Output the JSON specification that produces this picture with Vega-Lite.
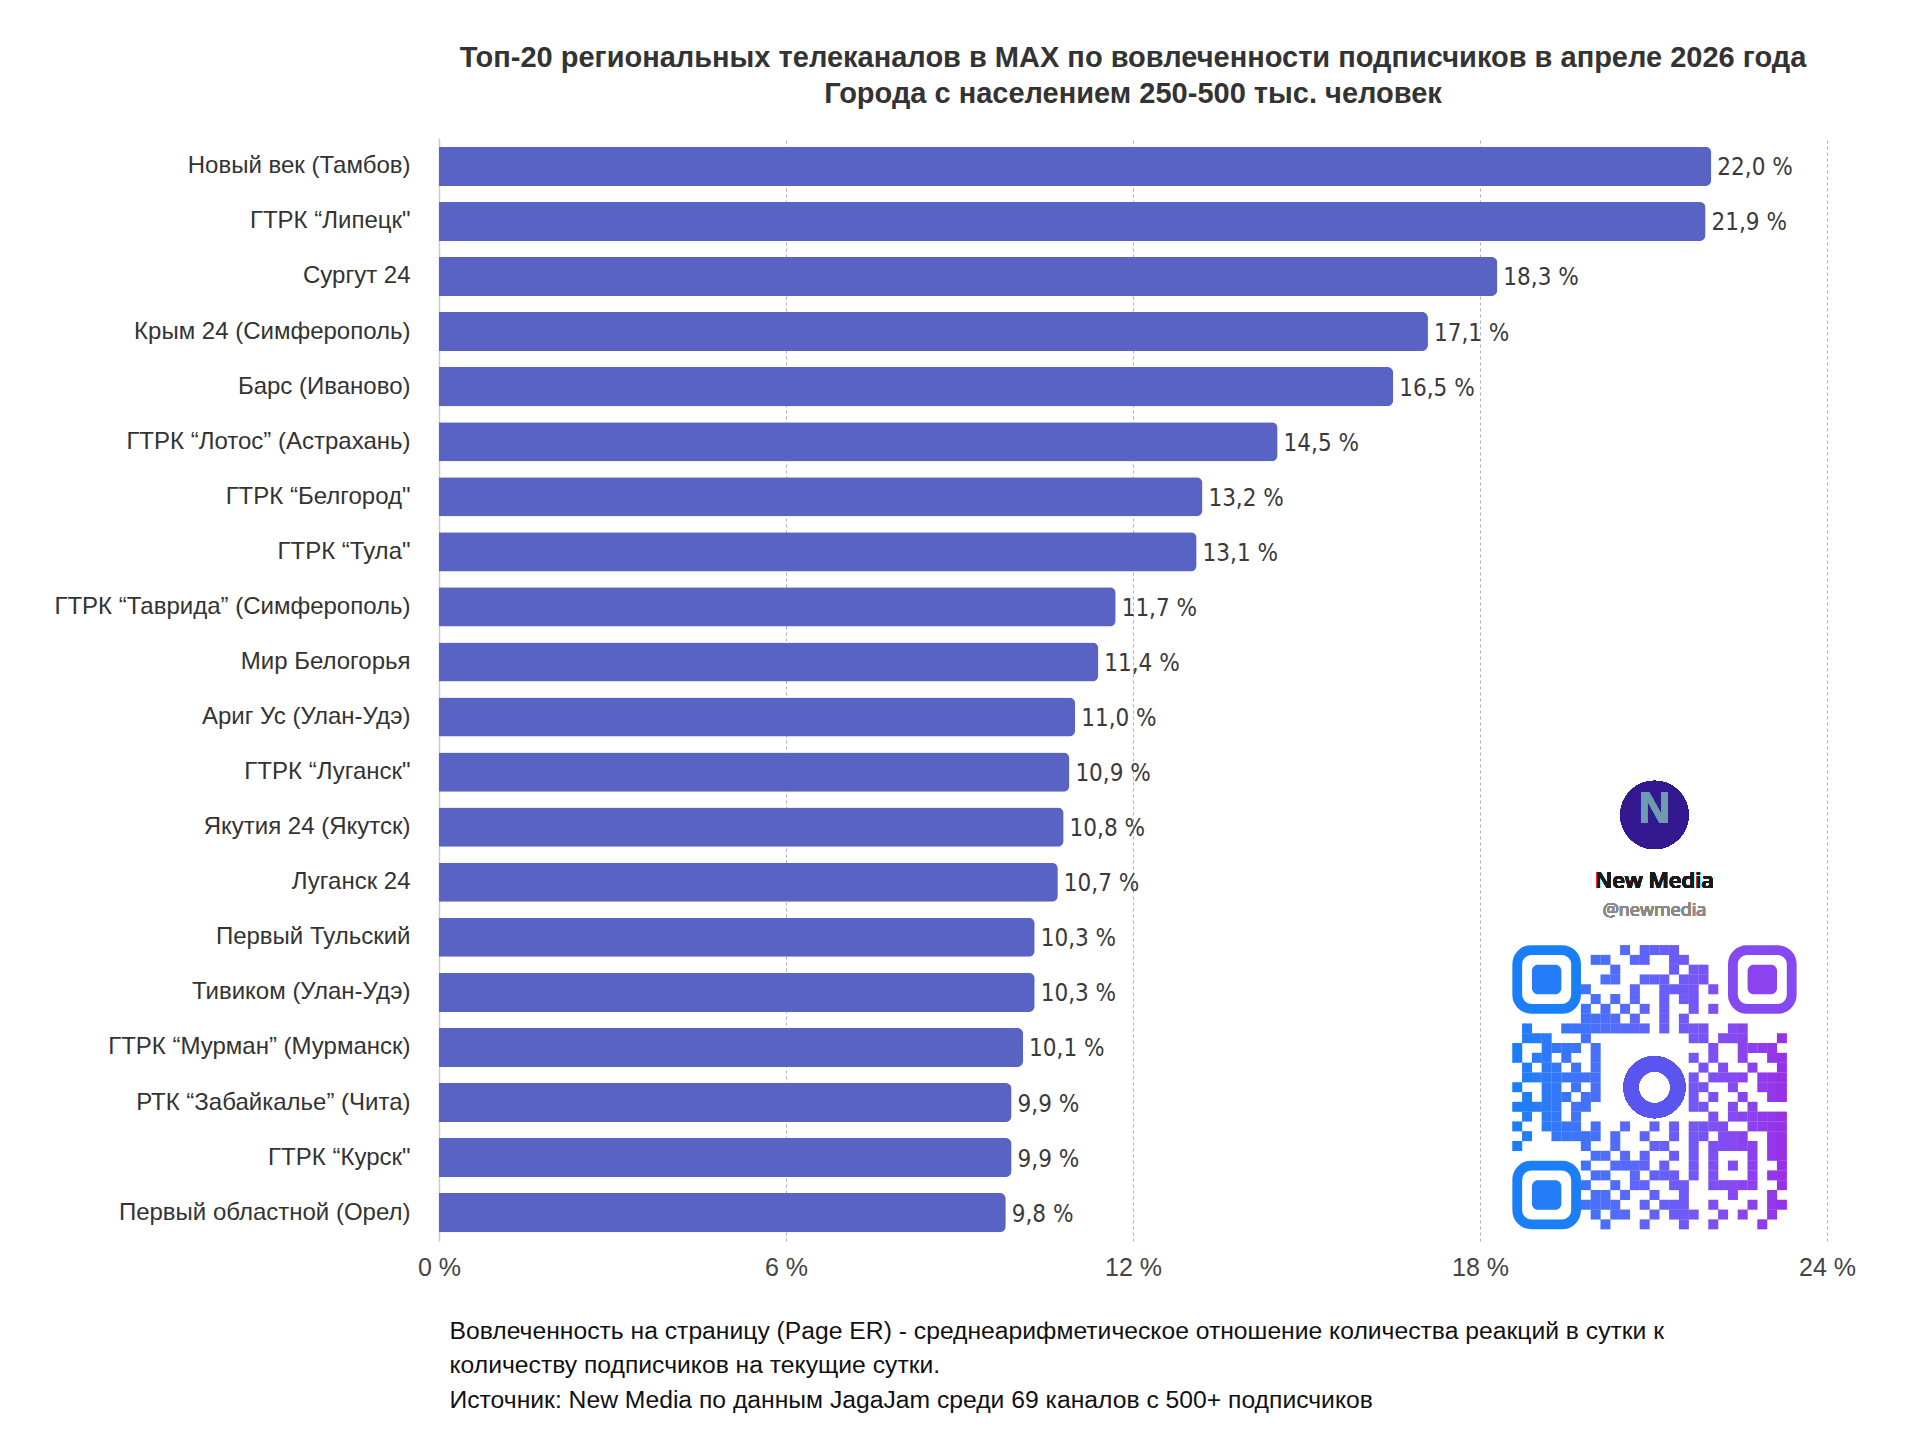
{
  "$schema": "https://vega.github.io/schema/vega-lite/v6.json",
  "description": "Top-20 regional TV channels in MAX by subscriber engagement, April 2026",
  "width": 1388,
  "height": 1103,
  "autosize": {"type": "none"},
  "padding": {"left": 439, "top": 138, "right": 93, "bottom": 215},
  "background": "white",
  "title": {
    "text": [
      "Топ-20 региональных телеканалов в MAX по вовлеченности подписчиков в апреле 2026 года",
      "Города с населением 250-500 тыс. человек"
    ],
    "anchor": "middle",
    "font": "Liberation Sans",
    "fontSize": 29,
    "fontWeight": "bold",
    "color": "#333333",
    "lineHeight": 36,
    "offset": 29
  },
  "layer": [
    {
      "data": {
        "values": [
          {"channel": "Новый век (Тамбов)", "v": 22.0},
          {"channel": "ГТРК “Липецк\"", "v": 21.9},
          {"channel": "Сургут 24", "v": 18.3},
          {"channel": "Крым 24 (Симферополь)", "v": 17.1},
          {"channel": "Барс (Иваново)", "v": 16.5},
          {"channel": "ГТРК “Лотос” (Астрахань)", "v": 14.5},
          {"channel": "ГТРК “Белгород\"", "v": 13.2},
          {"channel": "ГТРК “Тула\"", "v": 13.1},
          {"channel": "ГТРК “Таврида” (Симферополь)", "v": 11.7},
          {"channel": "Мир Белогорья", "v": 11.4},
          {"channel": "Ариг Ус (Улан-Удэ)", "v": 11.0},
          {"channel": "ГТРК “Луганск\"", "v": 10.9},
          {"channel": "Якутия 24 (Якутск)", "v": 10.8},
          {"channel": "Луганск 24", "v": 10.7},
          {"channel": "Первый Тульский", "v": 10.3},
          {"channel": "Тивиком (Улан-Удэ)", "v": 10.3},
          {"channel": "ГТРК “Мурман” (Мурманск)", "v": 10.1},
          {"channel": "РТК “Забайкалье” (Чита)", "v": 9.9},
          {"channel": "ГТРК “Курск\"", "v": 9.9},
          {"channel": "Первый областной (Орел)", "v": 9.8}
        ]
      },
      "transform": [
        {"calculate": "replace(format(datum.v, '.1f'), '.', ',') + ' %'", "as": "label"}
      ],
      "encoding": {
        "y": {
          "field": "channel",
          "type": "nominal",
          "sort": null,
          "scale": {"paddingInner": 0.29, "paddingOuter": 0.16},
          "axis": {
            "title": null,
            "labelFont": "Liberation Sans",
            "labelFontSize": 24,
            "labelColor": "#333333",
            "labelPadding": 29,
            "labelLimit": 700,
            "ticks": false,
            "domain": true,
            "domainColor": "#cccccc",
            "domainWidth": 1.5
          }
        },
        "x": {
          "field": "v",
          "type": "quantitative",
          "scale": {"domain": [0, 24], "nice": false},
          "axis": {
            "values": [0, 6, 12, 18, 24],
            "labelExpr": "datum.value + ' %'",
            "labelFont": "Liberation Sans",
            "labelFontSize": 25,
            "labelColor": "#444444",
            "labelPadding": 14,
            "labelFlush": false,
            "ticks": false,
            "domain": false,
            "grid": true,
            "gridDash": [3, 3],
            "gridColor": "#b0b0b0",
            "gridWidth": 1,
            "gridOpacity": {"condition": {"test": "datum.value === 0", "value": 0}, "value": 1},
            "title": [
              "Вовлеченность на страницу (Page ER) - среднеарифметическое отношение количества реакций в сутки к",
              "количеству подписчиков на текущие сутки.",
              "Источник: New Media по данным JagaJam среди 69 каналов с 500+ подписчиков"
            ],
            "titleFont": "Liberation Sans",
            "titleFontSize": 24.7,
            "titleFontWeight": "normal",
            "titleColor": "#111111",
            "titleAnchor": "start",
            "titleAlign": "left",
            "titleBaseline": "top",
            "titleLineHeight": 34.5,
            "titlePadding": 38,
            "titleX": 10
          }
        }
      },
      "layer": [
        {
          "mark": {"type": "bar", "color": "#5863c3", "cornerRadiusEnd": 6}
        },
        {
          "mark": {
            "type": "text",
            "align": "left",
            "baseline": "middle",
            "dx": 6,
            "dy": 2,
            "font": "DejaVu Sans Condensed",
            "fontSize": 24,
            "color": "#3a3a3a"
          },
          "encoding": {"text": {"field": "label"}}
        }
      ]
    },
    {
      "data": {
        "values": [
          {"r": 0, "c": [11, 13, 14, 15, 16]},
          {"r": 1, "c": [8, 9, 12, 13, 16, 17]},
          {"r": 2, "c": [10, 16, 18, 19]},
          {"r": 3, "c": [9, 10, 13, 14, 15, 17, 18, 19]},
          {"r": 4, "c": [7, 12, 15, 16, 17, 18, 20]},
          {"r": 5, "c": [8, 10, 12, 15, 17, 18]},
          {"r": 6, "c": [7, 9, 11, 13, 15, 18, 20]},
          {"r": 7, "c": [7, 8, 9, 10, 12, 15, 17]},
          {"r": 8, "c": [1, 5, 6, 7, 8, 9, 10, 11, 12, 13, 15, 17, 18, 19, 22, 23]},
          {"r": 9, "c": [1, 2, 3, 7, 18, 19, 21, 22, 23, 27]},
          {"r": 10, "c": [0, 3, 4, 5, 6, 8, 20, 23, 24, 25, 26]},
          {"r": 11, "c": [0, 2, 3, 5, 8, 18, 20, 23, 26, 27]},
          {"r": 12, "c": [1, 3, 4, 6, 8, 19, 21, 24, 27]},
          {"r": 13, "c": [1, 2, 3, 4, 5, 6, 7, 8, 18, 20, 21, 22, 23, 25, 26, 27]},
          {"r": 14, "c": [0, 3, 4, 6, 8, 18, 19, 22, 25, 26, 27]},
          {"r": 15, "c": [1, 3, 4, 5, 7, 8, 18, 20, 23, 26, 27]},
          {"r": 16, "c": [0, 1, 2, 3, 4, 6, 7, 18, 19, 22, 24]},
          {"r": 17, "c": [1, 3, 4, 6, 20, 22, 23, 24, 25, 26, 27]},
          {"r": 18, "c": [0, 3, 4, 5, 6, 8, 11, 14, 16, 18, 19, 20, 21, 24, 25, 26, 27]},
          {"r": 19, "c": [1, 4, 5, 6, 7, 8, 10, 13, 16, 18, 19, 21, 22, 23, 26, 27]},
          {"r": 20, "c": [0, 7, 10, 14, 15, 18, 20, 21, 22, 23, 24, 26, 27]},
          {"r": 21, "c": [8, 9, 11, 13, 16, 18, 20, 24, 26, 27]},
          {"r": 22, "c": [7, 10, 11, 12, 13, 15, 18, 20, 22, 24, 27]},
          {"r": 23, "c": [8, 9, 12, 14, 15, 16, 18, 20, 24, 26, 27]},
          {"r": 24, "c": [7, 10, 12, 13, 16, 17, 20, 21, 22, 23, 24, 27]},
          {"r": 25, "c": [8, 9, 11, 14, 17, 22, 26]},
          {"r": 26, "c": [7, 8, 9, 10, 13, 15, 16, 17, 20, 24, 26, 27]},
          {"r": 27, "c": [8, 10, 11, 14, 16, 17, 18, 21, 23, 26]},
          {"r": 28, "c": [9, 13, 17, 20, 25]}
        ]
      },
      "encoding": {
        "x": {"type": "quantitative", "scale": {"domain": [-110.0, 31.6], "nice": false, "zero": false}, "axis": null},
        "y": {"type": "quantitative", "scale": {"domain": [-82.9, 29.7], "nice": false, "zero": false, "reverse": true}, "axis": null}
      },
      "layer": [
        {
          "transform": [{"flatten": ["c"]}],
          "mark": {"type": "point", "shape": "square", "filled": true, "opacity": 1, "size": 100},
          "encoding": {
            "x": {"field": "c"},
            "y": {"field": "r"},
            "color": {
              "field": "c",
              "type": "quantitative",
              "scale": {"domain": [0, 28], "range": ["#1a7ff7", "#9b2be6"]},
              "legend": null
            }
          }
        },
        {
          "data": {
            "values": [
              {"x0": 0, "x1": 6, "y0": 0, "y1": 6},
              {"x0": 22, "x1": 28, "y0": 0, "y1": 6},
              {"x0": 0, "x1": 6, "y0": 22, "y1": 28}
            ]
          },
          "mark": {"type": "rect", "filled": false, "strokeWidth": 9.8, "cornerRadius": 14},
          "encoding": {
            "x": {"field": "x0"},
            "x2": {"field": "x1"},
            "y": {"field": "y0"},
            "y2": {"field": "y1"},
            "stroke": {
              "field": "x0",
              "type": "quantitative",
              "scale": {"domain": [0, 28], "range": ["#1a7ff7", "#9b2be6"]},
              "legend": null
            }
          }
        },
        {
          "data": {
            "values": [
              {"x0": 1.5, "x1": 4.5, "y0": 1.5, "y1": 4.5},
              {"x0": 23.5, "x1": 26.5, "y0": 1.5, "y1": 4.5},
              {"x0": 1.5, "x1": 4.5, "y0": 23.5, "y1": 26.5}
            ]
          },
          "mark": {"type": "rect", "cornerRadius": 6},
          "encoding": {
            "x": {"field": "x0"},
            "x2": {"field": "x1"},
            "y": {"field": "y0"},
            "y2": {"field": "y1"},
            "color": {
              "field": "x0",
              "type": "quantitative",
              "scale": {"domain": [0, 28], "range": ["#1a7ff7", "#9b2be6"]},
              "legend": null
            }
          }
        },
        {
          "mark": {"type": "point", "shape": "circle", "filled": false, "size": 2206, "strokeWidth": 15, "color": "#5a55ee", "opacity": 1},
          "encoding": {"x": {"datum": 14}, "y": {"datum": 14}}
        },
        {
          "mark": {"type": "point", "shape": "circle", "filled": true, "size": 4657, "color": "#33188f", "opacity": 1},
          "encoding": {"x": {"datum": 14.0}, "y": {"datum": -13.8}}
        },
        {
          "mark": {"type": "text", "font": "Liberation Sans", "fontSize": 44, "fontWeight": "bold", "color": "#6f9bb1", "baseline": "middle", "dy": -5},
          "encoding": {"x": {"datum": 14.0}, "y": {"datum": -13.8}, "text": {"value": "N"}}
        },
        {
          "mark": {"type": "text", "font": "Open Sans", "fontSize": 22, "fontWeight": 600, "color": "#1a1a1a", "baseline": "middle"},
          "encoding": {"x": {"datum": 14.0}, "y": {"datum": -7.0}, "text": {"value": "New Media"}}
        },
        {
          "mark": {"type": "text", "font": "Open Sans", "fontSize": 18, "fontWeight": "normal", "color": "#8a8a8a", "baseline": "middle"},
          "encoding": {"x": {"datum": 14.0}, "y": {"datum": -3.97}, "text": {"value": "@newmedia"}}
        }
      ]
    }
  ],
  "resolve": {"scale": {"x": "independent", "y": "independent", "color": "independent"}},
  "config": {
    "font": "Liberation Sans",
    "view": {"stroke": null}
  }
}
